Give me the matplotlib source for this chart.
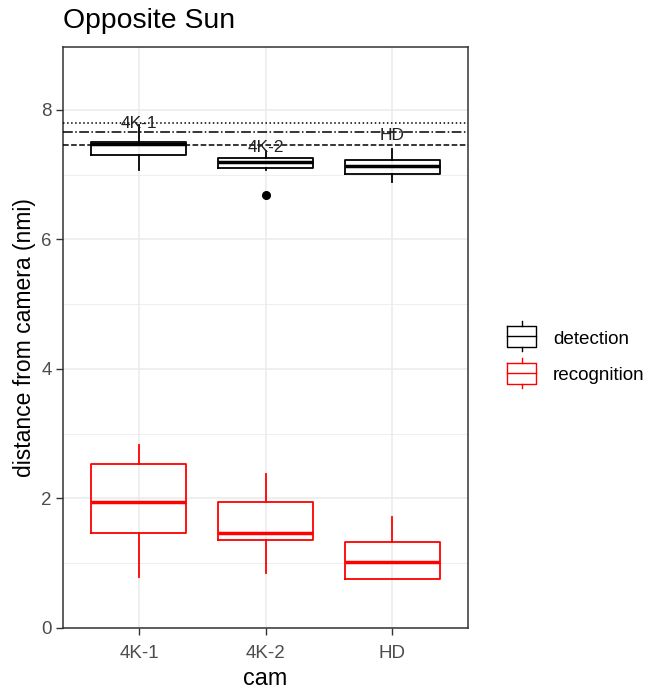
import matplotlib
matplotlib.use("Agg")
import matplotlib.pyplot as plt

plt.rcParams['font.family'] = ['Liberation Sans', 'DejaVu Sans']

cams = ["4K-1", "4K-2", "HD"]
# detection box stats: whislo, q1, med, q3, whishi
det_whislo = [7.07, 7.07, 6.88]
det_q1 = [7.30, 7.10, 7.01]
det_med = [7.47, 7.19, 7.14]
det_q3 = [7.50, 7.25, 7.23]
det_whishi = [7.76, 7.36, 7.40]
det_fliers = [[], [6.68], []]
# recognition box stats
rec_whislo = [0.78, 0.85, 0.76]
rec_q1 = [1.46, 1.36, 0.76]
rec_med = [1.94, 1.47, 1.02]
rec_q3 = [2.53, 1.95, 1.33]
rec_whishi = [2.83, 2.38, 1.71]
rec_fliers = [[], [], []]

# reference lines
ref_values = [7.79, 7.65, 7.46]
ref_styles = [":", "-.", "--"]
# labels placed at lines
label_text = ["4K-1", "4K-2", "HD"]
label_y = [7.79, 7.42, 7.60]

W, H = 666, 689
fig = plt.figure(figsize=(W / 100, H / 100), dpi=100)
ax = fig.add_axes([63 / W, 1 - 628 / H, (468 - 63) / W, (628 - 47) / H])

pos = [1, 2, 3]
ax.set_xlim(0.4, 3.6)
ax.set_ylim(0, 8.97)

# grid
for y in [1, 3, 5, 7]:
    ax.axhline(y, color="#EBEBEB", lw=0.6, zorder=0)
for y in [0, 2, 4, 6, 8]:
    ax.axhline(y, color="#EBEBEB", lw=1.1, zorder=0)
for x in pos:
    ax.axvline(x, color="#EBEBEB", lw=1.1, zorder=0)


def stats(wl, q1, md, q3, wh, fl):
    return [dict(whislo=a, q1=b, med=c, q3=d, whishi=e, fliers=f)
            for a, b, c, d, e, f in zip(wl, q1, md, q3, wh, fl)]


def draw(st, color):
    ax.bxp(st, positions=pos, widths=0.75, showcaps=False, patch_artist=False,
           boxprops=dict(color=color, lw=1.3),
           whiskerprops=dict(color=color, lw=1.3),
           medianprops=dict(color=color, lw=2.5, solid_capstyle="butt"),
           flierprops=dict(marker="o", markerfacecolor=color, markeredgecolor=color,
                           markersize=5.5),
           manage_ticks=False, zorder=3)


draw(stats(det_whislo, det_q1, det_med, det_q3, det_whishi, det_fliers), "black")
draw(stats(rec_whislo, rec_q1, rec_med, rec_q3, rec_whishi, rec_fliers), "#FF0000")

for v, ls in zip(ref_values, ref_styles):
    ax.axhline(v, color="black", lw=1.1, ls=ls, zorder=4)

for x, t, y in zip(pos, label_text, label_y):
    ax.text(x, y, t, ha="center", va="center", fontsize=12.5, color="#222222", zorder=5)

ax.set_xticks(pos)
ax.set_xticklabels(cams)
ax.set_yticks([0, 2, 4, 6, 8])
ax.tick_params(axis="both", colors="#333333", labelcolor="#4D4D4D", labelsize=13.5,
               length=5, width=1.0, pad=3)
ax.tick_params(axis="x", pad=7)
for s in ax.spines.values():
    s.set_color("#333333")
    s.set_linewidth(1.1)

ax.set_xlabel("cam", fontsize=16.8, color="black", labelpad=4)
ax.set_ylabel("distance from camera (nmi)", fontsize=16.5, color="black", labelpad=4)

fig.text(63 / W, 1 - 28 / H, "Opposite Sun", fontsize=20.4, ha="left", va="baseline")

# legend
lax = fig.add_axes([0, 0, 1, 1], facecolor="none")
lax.set_xlim(0, W)
lax.set_ylim(H, 0)
lax.axis("off")
for (yc, col, lab) in [(336, "black", "detection"), (373, "#FF0000", "recognition")]:
    x0, x1 = 507, 536
    xc = (x0 + x1) / 2
    lax.plot([x0, x1, x1, x0, x0], [yc - 10.5, yc - 10.5, yc + 10.5, yc + 10.5, yc - 10.5],
             color=col, lw=1.0)
    lax.plot([x0, x1], [yc, yc], color=col, lw=1.0)
    lax.plot([xc, xc], [yc - 15, yc - 10.5], color=col, lw=1.0)
    lax.plot([xc, xc], [yc + 10.5, yc + 15], color=col, lw=1.0)
    lax.text(553, yc + 3, lab, fontsize=13.6, va="center", ha="left", color="black")

fig.savefig("out.png", dpi=100)
